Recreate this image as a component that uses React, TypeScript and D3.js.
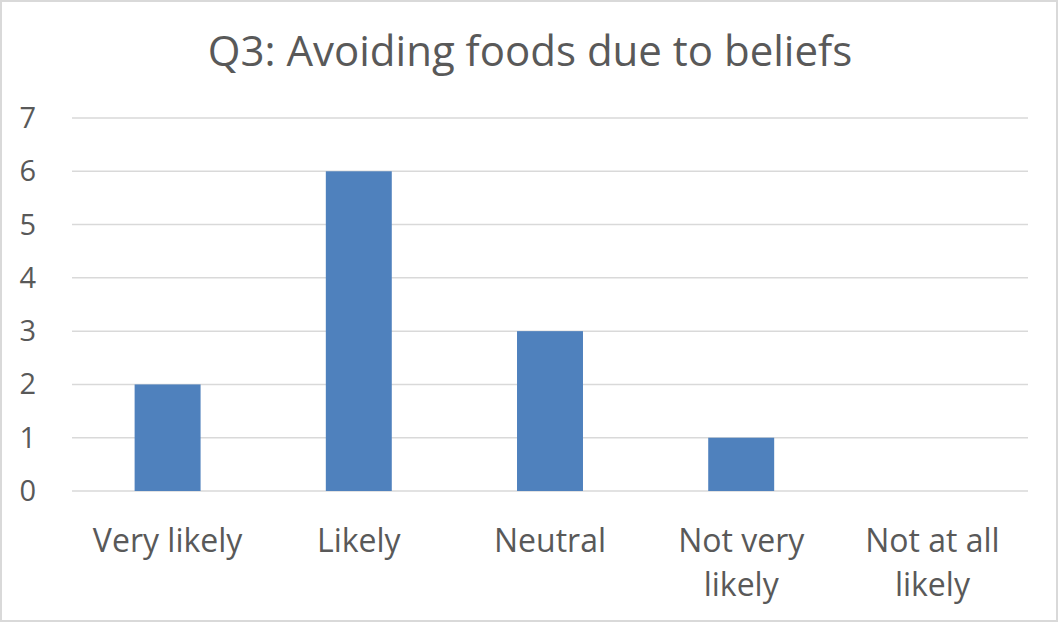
import * as d3 from 'd3';

const categories = ['Very likely', 'Likely', 'Neutral', 'Not very likely', 'Not at all likely'];
const categoryLines = [['Very likely'], ['Likely'], ['Neutral'], ['Not very', 'likely'], ['Not at all', 'likely']];
const values = [2, 6, 3, 1, 0];
const yTicks = [0, 1, 2, 3, 4, 5, 6, 7];

const W = 1059;
const H = 623;
const FONT = "'Open Sans', 'Liberation Sans', sans-serif";
const TEXT = '#595959';

export default function App() {
  const x = d3.scaleBand<string>().domain(categories).range([72, 1028]).padding(0);
  const y = d3.scaleLinear().domain([0, 7]).range([491, 118]);
  const barW = x.bandwidth() * 0.345;

  return (
    <svg
      width={W}
      height={H}
      style={{ position: 'absolute', left: 0, top: 0, background: '#fff' }}
      fontFamily={FONT}
    >
      <rect x={1} y={1} width={W - 3} height={H - 3} fill="#fff" stroke="#d9d9d9" strokeWidth={2} />
      <text x={530} y={66} textAnchor="middle" fontSize={42} fill={TEXT}>
        Q3: Avoiding foods due to beliefs
      </text>

      {yTicks.map((t) => (
        <g key={t}>
          <line x1={72} x2={1028} y1={y(t)} y2={y(t)} stroke="#d9d9d9" strokeWidth={1.5} />
          <text x={36} y={y(t) + 10} textAnchor="end" fontSize={29} fill={TEXT}>
            {t}
          </text>
        </g>
      ))}

      {categories.map((c, i) => (
        <rect
          key={c}
          x={(x(c) || 0) + x.bandwidth() / 2 - barW / 2}
          y={y(values[i])}
          width={barW}
          height={y(0) - y(values[i])}
          fill="#4f81bd"
        />
      ))}

      {categories.map((c, i) => (
        <text key={c} textAnchor="middle" fontSize={32} fill={TEXT}>
          {categoryLines[i].map((line, j) => (
            <tspan key={j} x={(x(c) || 0) + x.bandwidth() / 2} y={552 + j * 44}>
              {line}
            </tspan>
          ))}
        </text>
      ))}
    </svg>
  );
}
